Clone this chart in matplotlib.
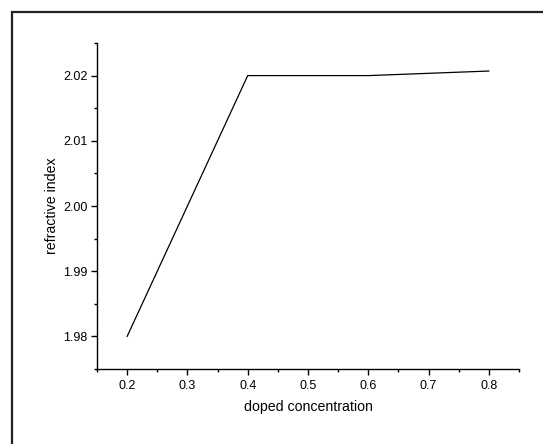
import matplotlib

matplotlib.use("Agg")
import matplotlib.pyplot as plt
from matplotlib.patches import Rectangle
from matplotlib.ticker import MultipleLocator

# data
concentration = [0.2, 0.4, 0.6, 0.8]
refractive_index = [1.980, 2.020, 2.020, 2.0207]

X_LABEL = "doped concentration"
Y_LABEL = "refractive index"

plt.rcParams.update(
    {
        "font.family": ["Liberation Sans", "DejaVu Sans"],
        "font.size": 9,
        "axes.linewidth": 1.0,
    }
)

W, H = 543, 444
fig = plt.figure(figsize=(W / 100, H / 100), dpi=100)

# outer frame (only top and left edges fall inside the image)
frame_left = 11.5 / W
frame_top = 1 - 12.5 / H
fig.add_artist(
    Rectangle(
        (frame_left, -0.2),
        1.2,
        frame_top + 0.2,
        transform=fig.transFigure,
        fill=False,
        edgecolor="#222222",
        linewidth=1.6,
    )
)

ax = fig.add_axes([97 / W, 1 - 369 / H, (519 - 97) / W, (369 - 43) / H])
ax.plot(concentration, refractive_index, color="black", linewidth=0.9)

ax.set_xlim(0.15, 0.85)
ax.set_ylim(1.975, 2.025)
ax.xaxis.set_major_locator(MultipleLocator(0.1))
ax.xaxis.set_minor_locator(MultipleLocator(0.05))
ax.yaxis.set_major_locator(MultipleLocator(0.01))
ax.yaxis.set_minor_locator(MultipleLocator(0.005))
ax.xaxis.set_major_formatter(plt.FuncFormatter(lambda v, p: f"{v:.1f}"))
ax.yaxis.set_major_formatter(plt.FuncFormatter(lambda v, p: f"{v:.2f}"))

ax.spines["top"].set_visible(False)
ax.spines["right"].set_visible(False)
ax.tick_params(which="major", direction="out", length=4, width=1.0, pad=3)
ax.tick_params(axis="x", which="major", pad=4)
ax.tick_params(which="minor", direction="out", length=2.5, width=1.0)
ax.tick_params(labelsize=9, colors="black")

ax.set_xlabel(X_LABEL, fontsize=10.2, labelpad=6)
ax.set_ylabel(Y_LABEL, fontsize=10.2, labelpad=3)

fig.savefig("out.png", dpi=100)
